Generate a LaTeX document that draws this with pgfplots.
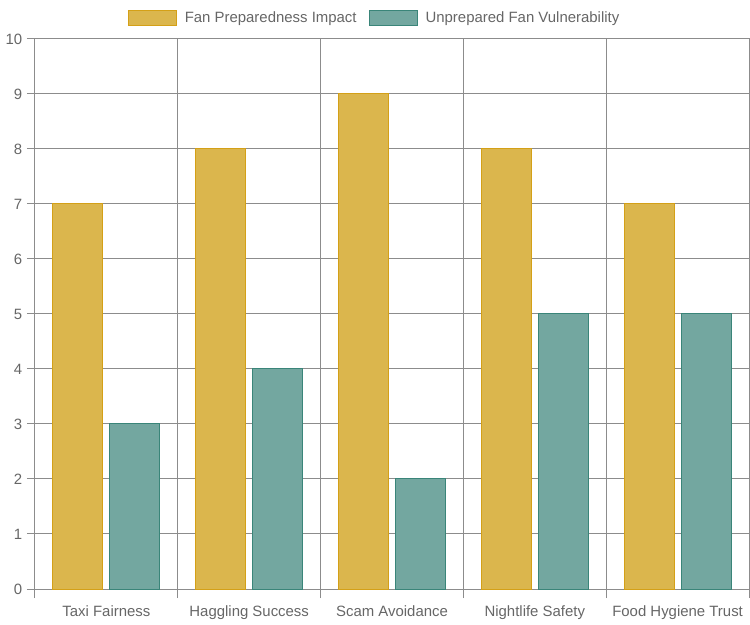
\documentclass[border=0pt]{standalone}
\usepackage{pgfplots}
\pgfplotsset{compat=1.18}
\usepackage{fontspec}
\setmainfont{Liberation Sans}
\definecolor{gold}{RGB}{219,182,77}
\definecolor{goldedge}{RGB}{212,160,23}
\definecolor{tealf}{RGB}{115,167,160}
\definecolor{tealedge}{RGB}{58,133,121}
\definecolor{gridc}{RGB}{140,140,140}
\definecolor{txt}{RGB}{102,102,102}
\begin{document}
\begin{tikzpicture}
\useasboundingbox (-26.25pt,-27pt) rectangle (536.25pt,441.75pt);
\begin{axis}[
  at={(0,0)}, anchor=south west,
  scale only axis, width=535.5pt, height=412.5pt,
  ymin=0, ymax=10, ytick={0,...,10},
  xmin=-0.5, xmax=4.5,
  xtick={0,...,4},
  xticklabels={Taxi Fairness, Haggling Success, Scam Avoidance, Nightlife Safety, Food Hygiene Trust},
  minor xtick={-0.5,0.5,...,4.5},
  xminorgrids=true, ymajorgrids=true,
  grid style={gridc, line width=0.75pt},
  axis line style={gridc, line width=0.75pt},
  major x tick style={draw=none},
  every tick/.style={gridc, line width=0.75pt},
  minor tick style={gridc, line width=0.75pt},
  tick align=outside,
  major tick length=6pt, minor tick length=6.75pt,
  xtick pos=bottom, ytick pos=left,
  ticklabel style={text=txt, font=\fontsize{11.2}{13}\selectfont},
  xticklabel style={yshift=-3pt},
  /pgf/number format/assume math mode=true,
  legend style={at={(0.476,1.038)}, anchor=center, draw=none, fill=none,
    legend columns=2, font=\fontsize{11.2}{13}\selectfont, text=txt,
    /tikz/every even column/.append style={column sep=7pt}},
  ybar,
]
\addplot[fill=gold, draw=goldedge, line width=0.75pt, bar width=0.35, bar shift=-0.2,
  legend image code/.code={\draw[fill=gold, draw=goldedge, line width=0.75pt] (0pt,-5.6pt) rectangle (36pt,5.6pt); \path (40pt,0pt);}]
  coordinates {(0,7) (1,8) (2,9) (3,8) (4,7)};
\addlegendentry{Fan Preparedness Impact}
\addplot[fill=tealf, draw=tealedge, line width=0.75pt, bar width=0.35, bar shift=0.2,
  legend image code/.code={\draw[fill=tealf, draw=tealedge, line width=0.75pt] (0pt,-5.6pt) rectangle (36pt,5.6pt); \path (40pt,0pt);}]
  coordinates {(0,3) (1,4) (2,2) (3,5) (4,5)};
\addlegendentry{Unprepared Fan Vulnerability}
\end{axis}
\end{tikzpicture}
\end{document}
